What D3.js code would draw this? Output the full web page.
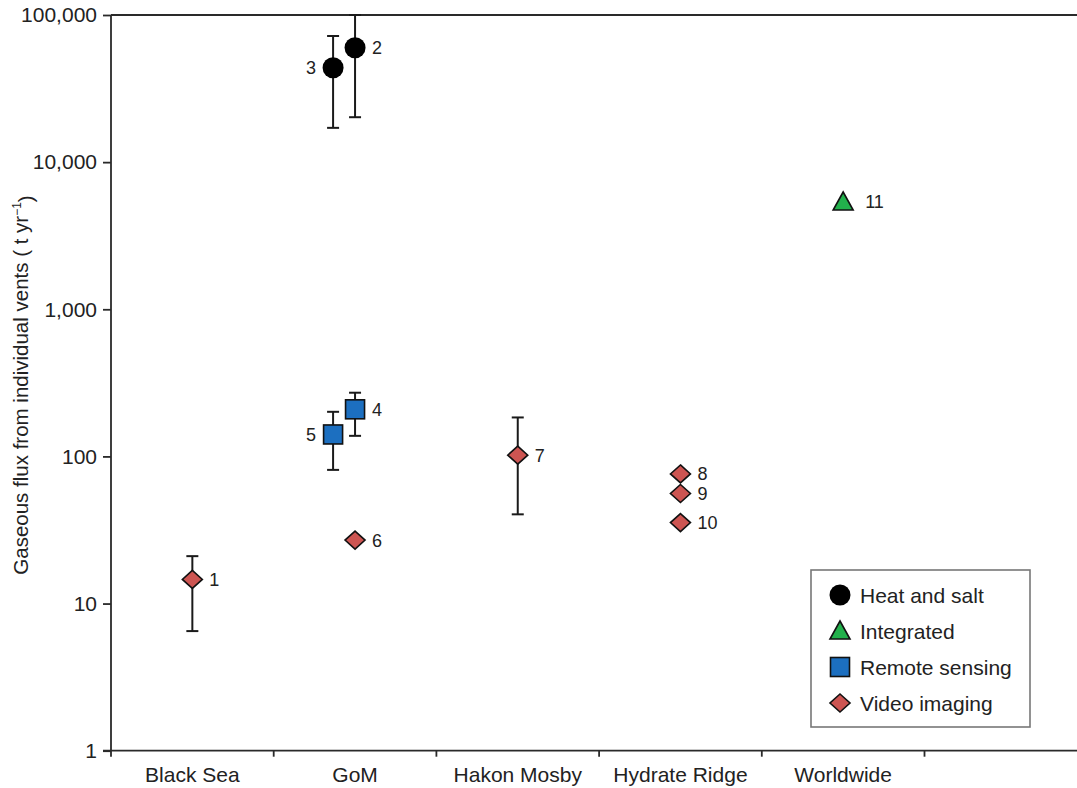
<!DOCTYPE html>
<html>
<head>
<meta charset="utf-8">
<script src="https://cdn.jsdelivr.net/npm/d3@7"></script>
<style>
  html, body { margin: 0; padding: 0; background: #fff; }
  svg { display: block; }
  text { font-family: "Liberation Sans", Arial, Helvetica, sans-serif; fill: #222; }
</style>
</head>
<body>
<svg id="chart" width="1077" height="788"></svg>
<script>
// ---- data ----
const categories = ["Black Sea", "GoM", "Hakon Mosby", "Hydrate Ridge", "Worldwide", ""];
const pointIds   = ["1", "2", "3", "4", "5", "6", "7", "8", "9", "10", "11"];
const pointSite  = ["Black Sea", "GoM", "GoM", "GoM", "GoM", "GoM", "Hakon Mosby", "Hydrate Ridge", "Hydrate Ridge", "Hydrate Ridge", "Worldwide"];
const pointMethod = ["Video imaging", "Heat and salt", "Heat and salt", "Remote sensing", "Remote sensing", "Video imaging", "Video imaging", "Video imaging", "Video imaging", "Video imaging", "Integrated"];
const fluxValues = [14.6, 59900, 43800, 209, 141, 27, 102, 76, 56, 35.5, 5360];
const errLow     = [6.5, 20200, 17100, 138, 81, null, 40.4, null, null, null, null];
const errHigh    = [21, 100000, 72000, 271, 201, null, 184, null, null, null, null];
const dodge      = [0, 0, -1, 0, -1, 0, 0, 0, 0, 0, 0];      // sub-slot within a site
const labelSide  = ["right", "right", "left", "right", "left", "right", "right", "right", "right", "right", "right"];
const yTickValues = [1, 10, 100, 1000, 10000, 100000];
const legendMethods = ["Heat and salt", "Integrated", "Remote sensing", "Video imaging"];
const yLabel = "Gaseous flux from individual vents ( t yr";

// ---- styles ----
const methodStyle = {
  "Heat and salt":  { shape: "circle",   fill: "#000000" },
  "Integrated":     { shape: "triangle", fill: "#22b14c" },
  "Remote sensing": { shape: "square",   fill: "#1c6fc0" },
  "Video imaging":  { shape: "diamond",  fill: "#cd5552" }
};

const svg = d3.select("#chart");
const plotLeft = 111, plotTop = 15, plotBottom = 750.7, step = 162.7;

const x = d3.scaleBand().domain(categories).range([plotLeft, plotLeft + step * categories.length]).paddingInner(0).paddingOuter(0);
const y = d3.scaleLog().domain([1, 100000]).range([plotBottom, plotTop]);

const points = pointIds.map((id, i) => ({
  id, site: pointSite[i], method: pointMethod[i], v: fluxValues[i],
  lo: errLow[i], hi: errHigh[i], dodge: dodge[i], side: labelSide[i]
}));
const px = d => x(d.site) + x.bandwidth() / 2 + d.dodge * x.bandwidth() * 0.135;

function drawMarker(g, method, cx, cy) {
  const s = methodStyle[method];
  const stroke = "#111", sw = 1.6;
  if (s.shape === "circle") {
    g.append("circle").attr("cx", cx).attr("cy", cy).attr("r", 10.5).attr("fill", s.fill);
  } else if (s.shape === "square") {
    g.append("rect").attr("x", cx - 9.5).attr("y", cy - 9.5).attr("width", 19).attr("height", 19)
      .attr("fill", s.fill).attr("stroke", stroke).attr("stroke-width", sw);
  } else if (s.shape === "diamond") {
    g.append("path").attr("d", `M${cx},${cy - 9}L${cx + 10},${cy}L${cx},${cy + 9}L${cx - 10},${cy}Z`)
      .attr("fill", s.fill).attr("stroke", stroke).attr("stroke-width", sw).attr("stroke-linejoin", "miter");
  } else if (s.shape === "triangle") {
    g.append("path").attr("d", `M${cx},${cy - 10}L${cx + 10},${cy + 8}L${cx - 10},${cy + 8}Z`)
      .attr("fill", s.fill).attr("stroke", stroke).attr("stroke-width", sw).attr("stroke-linejoin", "miter");
  }
}

// ---- axes ----
const lineColor = "#2a2a2a";
// y axis
const yAxis = d3.axisLeft(y).tickValues(yTickValues).tickFormat(d3.format(",")).tickSize(8).tickPadding(6);
const yg = svg.append("g").attr("transform", `translate(${plotLeft},0)`).call(yAxis);
yg.select(".domain").remove();
yg.selectAll(".tick line").attr("stroke", lineColor).attr("stroke-width", 1.8);
yg.selectAll(".tick text").style("font-size", "21px").attr("fill", "#222")
  .style("font-family", '"Liberation Sans", Arial, sans-serif');
svg.append("line").attr("x1", plotLeft).attr("x2", plotLeft).attr("y1", plotTop).attr("y2", plotBottom + 6)
  .attr("stroke", lineColor).attr("stroke-width", 1.8);

// x axis
const xAxis = d3.axisBottom(x).tickSize(0).tickPadding(16);
const xg = svg.append("g").attr("transform", `translate(0,${plotBottom})`).call(xAxis);
xg.select(".domain").remove();
xg.selectAll(".tick text").style("font-size", "21px").attr("fill", "#222")
  .style("font-family", '"Liberation Sans", Arial, sans-serif');
svg.append("line").attr("x1", plotLeft - 8).attr("x2", 1077).attr("y1", plotBottom).attr("y2", plotBottom)
  .attr("stroke", lineColor).attr("stroke-width", 1.8);
// boundary ticks between categories
svg.append("g").selectAll("line").data(categories.slice(0, -1)).join("line")
  .attr("x1", d => x(d) + x.bandwidth()).attr("x2", d => x(d) + x.bandwidth())
  .attr("y1", plotBottom).attr("y2", plotBottom + 6).attr("stroke", lineColor).attr("stroke-width", 1.8);

// top frame line
svg.append("line").attr("x1", plotLeft).attr("x2", 1077).attr("y1", plotTop).attr("y2", plotTop)
  .attr("stroke", lineColor).attr("stroke-width", 1.8);

// y label
const yl = svg.append("text").attr("transform", `translate(28,385) rotate(-90)`)
  .attr("text-anchor", "middle").style("font-size", "20.5px");
yl.append("tspan").text(yLabel);
yl.append("tspan").attr("dy", "-0.55em").style("font-size", "12px").text("−1");
yl.append("tspan").attr("dy", "0.55em").text(")");

// ---- error bars ----
const eg = svg.append("g");
points.filter(d => d.lo != null).forEach(d => {
  const cx = px(d);
  eg.append("line").attr("x1", cx).attr("x2", cx).attr("y1", y(d.lo)).attr("y2", y(d.hi))
    .attr("stroke", "#1a1a1a").attr("stroke-width", 2);
  [d.lo, d.hi].forEach(v => {
    eg.append("line").attr("x1", cx - 6).attr("x2", cx + 6).attr("y1", y(v)).attr("y2", y(v))
      .attr("stroke", "#1a1a1a").attr("stroke-width", 2);
  });
});

// ---- markers and labels ----
const mg = svg.append("g");
points.forEach(d => {
  const cx = px(d), cy = y(d.v);
  drawMarker(mg, d.method, cx, cy);
  const off = d.method === "Integrated" ? 22 : 17;
  mg.append("text")
    .attr("x", d.side === "right" ? cx + off : cx - 17)
    .attr("y", cy).attr("dy", "0.36em")
    .attr("text-anchor", d.side === "right" ? "start" : "end")
    .style("font-size", "18px").attr("fill", "#333")
    .text(d.id);
});

// ---- legend ----
const lg = svg.append("g");
lg.append("rect").attr("x", 811).attr("y", 570).attr("width", 219).attr("height", 157)
  .attr("fill", "#fff").attr("stroke", "#777").attr("stroke-width", 1.6);
const legendY = d3.scalePoint().domain(legendMethods).range([595, 703]);
legendMethods.forEach(m => {
  drawMarker(lg, m, 840, legendY(m));
  lg.append("text").attr("x", 860).attr("y", legendY(m)).attr("dy", "0.36em")
    .style("font-size", "21px").attr("fill", "#222").text(m);
});
</script>
</body>
</html>
